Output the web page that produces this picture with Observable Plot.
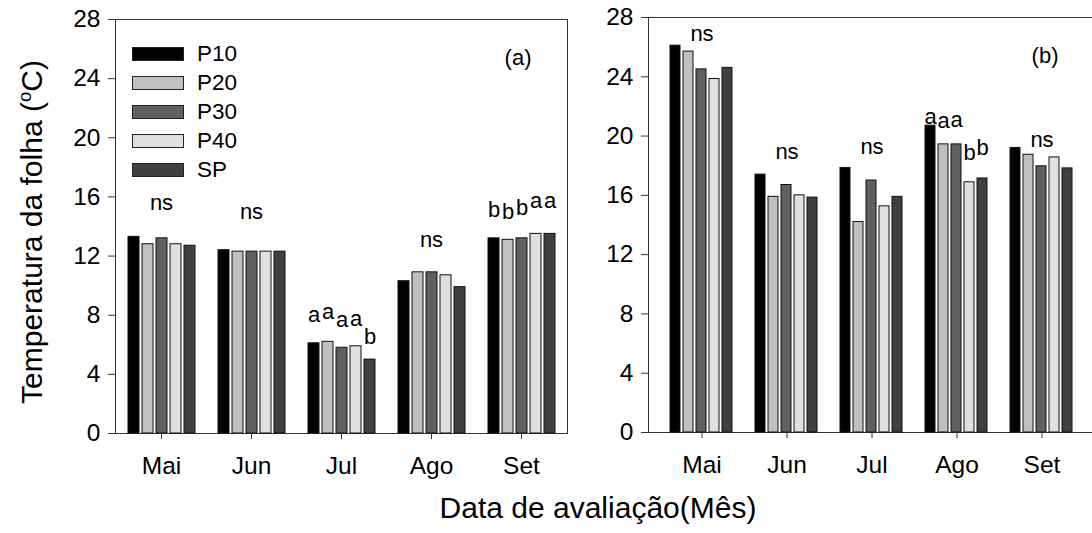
<!DOCTYPE html>
<html><head><meta charset="utf-8">
<script src="https://cdn.jsdelivr.net/npm/d3@7"></script>
<script src="https://cdn.jsdelivr.net/npm/@observablehq/plot@0.6"></script>
<style>
body{margin:0;background:#fff;font-family:"Liberation Sans",Arial,sans-serif;}
#wrap{position:relative;width:1092px;height:533px;overflow:hidden;background:#fff;}
.panel{position:absolute;top:0;height:480px;}
.panel svg{position:absolute;left:0;top:0;max-width:none !important;}
#ytitle{position:absolute;left:31px;top:232px;transform:translate(-50%,-50%) rotate(-90deg);white-space:nowrap;font-size:30px;color:#000;}
#ytitle sup{font-size:0.62em;}
#xtitle{position:absolute;left:598px;top:508px;transform:translate(-50%,-50%);white-space:nowrap;font-size:30px;color:#000;}
.lg{position:absolute;left:132px;height:14px;}
.sw{position:absolute;left:0;top:0;width:52px;height:14px;box-sizing:border-box;border:1px solid #222;}
.lt{position:absolute;left:65px;top:-5px;font-size:22.5px;line-height:24px;white-space:nowrap;}
</style></head><body>
<div id="wrap">
  <div id="left" class="panel" style="left:0;width:572px"></div>
  <div id="right" class="panel" style="left:572px;width:527px"></div>
  <div id="legend"></div>
  <div id="ytitle">Temperatura da folha (<sup>o</sup>C)</div>
  <div id="xtitle">Data de avaliação(Mês)</div>
</div>
<script>
const months = ["Mai", "Jun", "Jul", "Ago", "Set"];
const series = ["P10", "P20", "P30", "P40", "SP"];
const colors = ["#000000", "#c0c0c0", "#606060", "#e0e0e0", "#404040"];
const yTicks = [0, 4, 8, 12, 16, 20, 24, 28];

// Panel (a): rows = months, columns = series
const valuesA = [
  [13.3, 12.8, 13.2, 12.8, 12.7],
  [12.4, 12.3, 12.3, 12.3, 12.3],
  [6.1, 6.2, 5.8, 5.9, 5.0],
  [10.3, 10.9, 10.9, 10.7, 9.9],
  [13.2, 13.1, 13.2, 13.5, 13.5]
];
// Panel (b)
const valuesB = [
  [26.1, 25.7, 24.5, 23.85, 24.6],
  [17.4, 15.9, 16.7, 16.0, 15.85],
  [17.85, 14.2, 17.0, 15.26, 15.9],
  [20.7, 19.44, 19.44, 16.88, 17.14],
  [19.2, 18.74, 17.96, 18.56, 17.82]
];

// Significance letters (placed above individual bars)
const lettersA = [
  {month: "Jul", series: "P10", label: "a", y: 7.93},
  {month: "Jul", series: "P20", label: "a", y: 8.15},
  {month: "Jul", series: "P30", label: "a", y: 7.6},
  {month: "Jul", series: "P40", label: "a", y: 7.65},
  {month: "Jul", series: "SP", label: "b", y: 6.46},
  {month: "Set", series: "P10", label: "b", y: 15.08},
  {month: "Set", series: "P20", label: "b", y: 14.94},
  {month: "Set", series: "P30", label: "b", y: 15.19},
  {month: "Set", series: "P40", label: "a", y: 15.67},
  {month: "Set", series: "SP", label: "a", y: 15.67}
];
const lettersB = [
  {month: "Ago", series: "P10", label: "a", y: 21.2},
  {month: "Ago", series: "P20", label: "a", y: 20.92},
  {month: "Ago", series: "P30", label: "a", y: 21.03},
  {month: "Ago", series: "P40", label: "b", y: 18.8},
  {month: "Ago", series: "SP", label: "b", y: 19.1}
];
// "ns" labels (centred over the month group)
const nsA = [
  {month: "Mai", label: "ns", y: 15.5},
  {month: "Jun", label: "ns", y: 14.9},
  {month: "Ago", label: "ns", y: 13.05}
];
const nsB = [
  {month: "Mai", label: "ns", y: 26.8},
  {month: "Jun", label: "ns", y: 18.83},
  {month: "Jul", label: "ns", y: 19.17},
  {month: "Set", label: "ns", y: 19.7}
];

const toTable = (vals) => months.flatMap((m, i) => series.map((s, j) => ({month: m, series: s, value: vals[i][j]})));
const tableA = toTable(valuesA);
const tableB = toTable(valuesB);

const FONT = "'Liberation Sans', Arial, sans-serif";

function dims(o) {
  return {
    width: o.width, height: o.height,
    marginLeft: o.marginLeft, marginRight: o.marginRight,
    marginTop: o.marginTop, marginBottom: o.marginBottom,
    style: {fontFamily: FONT, background: "transparent", color: "#000", overflow: "visible", maxWidth: "none"}
  };
}

// Background layer: frame, y axis, panel tag
function axesLayer(o) {
  return Plot.plot({
    ...dims(o),
    x: {domain: [0, 1], axis: null},
    y: {domain: [0, 28], axis: null},
    marks: [
      Plot.frame({stroke: "#333", strokeWidth: 1}),
      Plot.axisY({ticks: yTicks, tickSize: 7, tickPadding: 8, fontSize: 24.5, label: null, stroke: "#333"}),
      Plot.text([o.tag], {frameAnchor: "top-right", dx: -36, dy: 30, fontSize: 22, fill: "#000"})
    ]
  });
}

// Foreground layer: grouped bars, faceted by month
function barsLayer(o) {
  return Plot.plot({
    ...dims(o),
    fx: {domain: months, paddingInner: o.fxInner, paddingOuter: o.fxOuter, label: null},
    x: {domain: series, paddingInner: o.xInner, paddingOuter: 0, axis: null},
    y: {domain: [0, 28], axis: null},
    color: {domain: series, range: colors},
    marks: [
      Plot.barY(o.data, {fx: "month", x: "series", y: "value", fill: "series", stroke: "#111", strokeWidth: 1}),
      Plot.text(o.letters, {fx: "month", x: "series", y: "y", text: "label", fontSize: 22, dy: -1, fill: "#000"}),
      Plot.text(o.ns, {fx: "month", y: "y", text: "label", fontSize: 22, dy: -1, fill: "#000"}),
      Plot.axisFx({anchor: "bottom", tickSize: 6, tickPadding: 17, fontSize: 24.5, label: null, stroke: "#333"})
    ]
  });
}

function panel(id, o) {
  const el = document.getElementById(id);
  el.append(axesLayer(o));
  el.append(barsLayer(o));
}

panel("left", {
  data: tableA, letters: lettersA, ns: nsA, tag: "(a)",
  width: 572, height: 473, marginLeft: 115, marginRight: 5, marginTop: 19, marginBottom: 40,
  fxInner: 0.248, fxOuter: 0.124, xInner: 0.25
});
panel("right", {
  data: tableB, letters: lettersB, ns: nsB, tag: "(b)",
  width: 527, height: 472, marginLeft: 76, marginRight: 5, marginTop: 17, marginBottom: 40,
  fxInner: 0.24, fxOuter: 0.228, xInner: 0.23
});

// Legend
const legend = document.getElementById("legend");
series.forEach((s, i) => {
  const row = document.createElement("div");
  row.className = "lg";
  row.style.top = (47 + i * 29) + "px";
  const sw = document.createElement("div");
  sw.className = "sw";
  sw.style.background = colors[i];
  const lt = document.createElement("div");
  lt.className = "lt";
  lt.textContent = s;
  row.append(sw, lt);
  legend.append(row);
});
</script>
</body></html>
